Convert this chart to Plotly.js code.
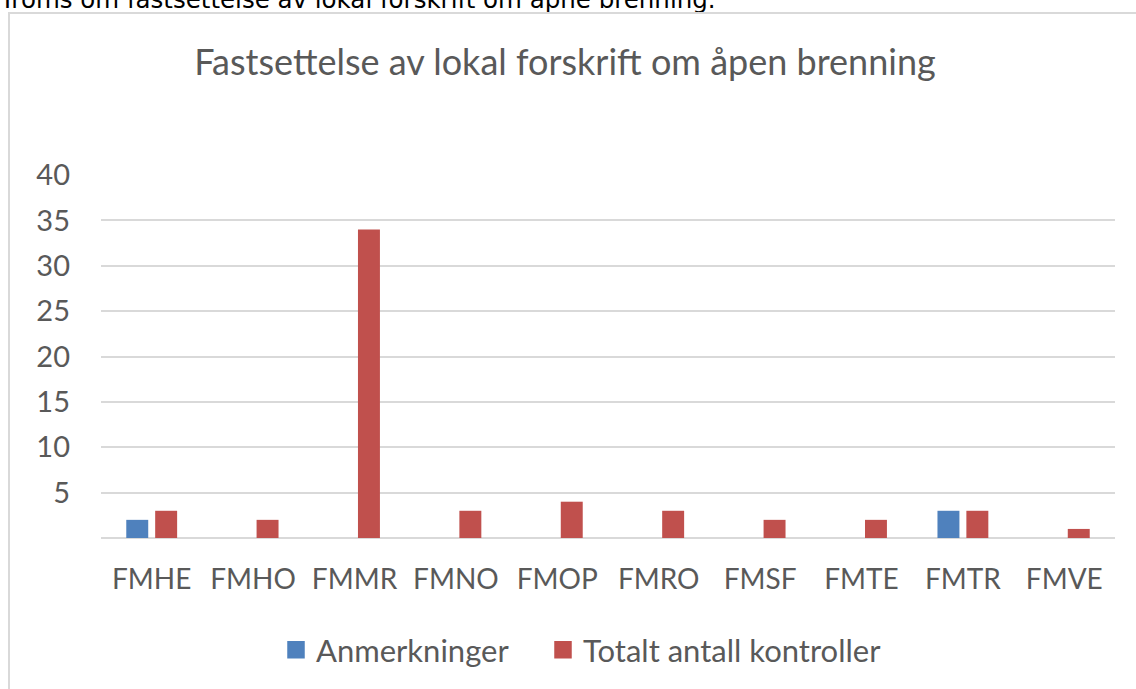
<!DOCTYPE html>
<html>
<head>
<meta charset="utf-8">
<script src="https://cdn.plot.ly/plotly-3.0.1.min.js"></script>
<style>
  html, body { margin: 0; padding: 0; background: #fff; overflow: hidden; }
  #lead {
    position: absolute; left: 0; top: -12px;
    font-family: "DejaVu Sans", sans-serif; font-size: 24.5px; line-height: 24px; color: #000;
    white-space: nowrap;
  }
  #frame {
    position: absolute; left: 8px; top: 12px; width: 1200px; height: 760px;
    border: 2px solid #d9d9d9; box-sizing: border-box;
  }
  #graph { position: absolute; left: 0; top: 0; width: 1136px; height: 689px; }
</style>
</head>
<body>
<div id="lead">Troms om fastsettelse av lokal forskrift om åpne brenning.</div>
<div id="frame"></div>
<div id="graph"></div>
<script>
  const categories = ["FMHE", "FMHO", "FMMR", "FMNO", "FMOP", "FMRO", "FMSF", "FMTE", "FMTR", "FMVE"]
  const anmerkninger = [2, 0, 0, 0, 0, 0, 0, 0, 3, 0]
  const totaltKontroller = [3, 2, 34, 3, 4, 3, 2, 2, 3, 1]
  const seriesNames = ["Anmerkninger", "Totalt antall kontroller"]
  const seriesColors = ["#4f81bd", "#c0504d"]
  const yTicks = [5, 10, 15, 20, 25, 30, 35, 40]

  const font = "Lato, 'Open Sans', sans-serif"
  const grey = "#595959"

  const bars = [anmerkninger, totaltKontroller].map((values, i) => ({
    type: "bar",
    x: categories,
    y: values,
    name: seriesNames[i],
    marker: { color: seriesColors[i] },
    showlegend: false,
  }))

  // marker traces with no visible point, only for the legend (bigger swatches)
  const keys = seriesNames.map((name, i) => ({
    type: "scatter",
    mode: "markers",
    x: [categories[0]],
    y: [null],
    name: name,
    marker: { symbol: "square", size: 16, color: seriesColors[i], line: { color: seriesColors[i], width: 1.5 } },
    legend: i === 0 ? "legend" : "legend2",
  }))

  // one legend per series so the gap between the entries can be set
  function legendAt(left) {
    return {
      orientation: "h",
      x: (left - 101) / 1014,
      xanchor: "left",
      y: -(650 - 538) / 363,
      yanchor: "middle",
      font: { family: font, size: 31, color: grey },
      itemwidth: 30,
      itemsizing: "trace",
    }
  }

  const layout = {
    width: 1136,
    height: 689,
    paper_bgcolor: "rgba(0,0,0,0)",
    plot_bgcolor: "rgba(0,0,0,0)",
    margin: { l: 101, r: 21, t: 175, b: 151 },
    barmode: "group",
    bargap: 0.43,
    bargroupgap: 0.24,
    font: { family: font, color: grey },
    title: {
      text: "Fastsettelse av lokal forskrift om åpen brenning",
      font: { family: font, size: 36, color: grey },
      x: 565 / 1136,
      xanchor: "center",
      y: 1 - 62 / 689,
      yanchor: "middle",
    },
    xaxis: {
      type: "category",
      categoryarray: categories,
      range: [-0.5, categories.length - 0.5],
      showgrid: false,
      showline: false,
      ticks: "",
      tickfont: { family: font, size: 28, color: grey },
      ticklabelstandoff: 22,
    },
    yaxis: {
      range: [0, 40],
      tickvals: yTicks,
      ticktext: yTicks.map(String),
      showgrid: true,
      gridcolor: "#d9d9d9",
      gridwidth: 2,
      zeroline: true,
      zerolinecolor: "#d9d9d9",
      zerolinewidth: 2,
      showline: false,
      ticks: "",
      tickfont: { family: font, size: 29, color: grey },
      ticklabelstandoff: 30,
    },
    showlegend: true,
    legend: legendAt(276),
    legend2: legendAt(543),
  }

  Plotly.newPlot("graph", bars.concat(keys), layout, { displayModeBar: false, staticPlot: true })
</script>
</body>
</html>
